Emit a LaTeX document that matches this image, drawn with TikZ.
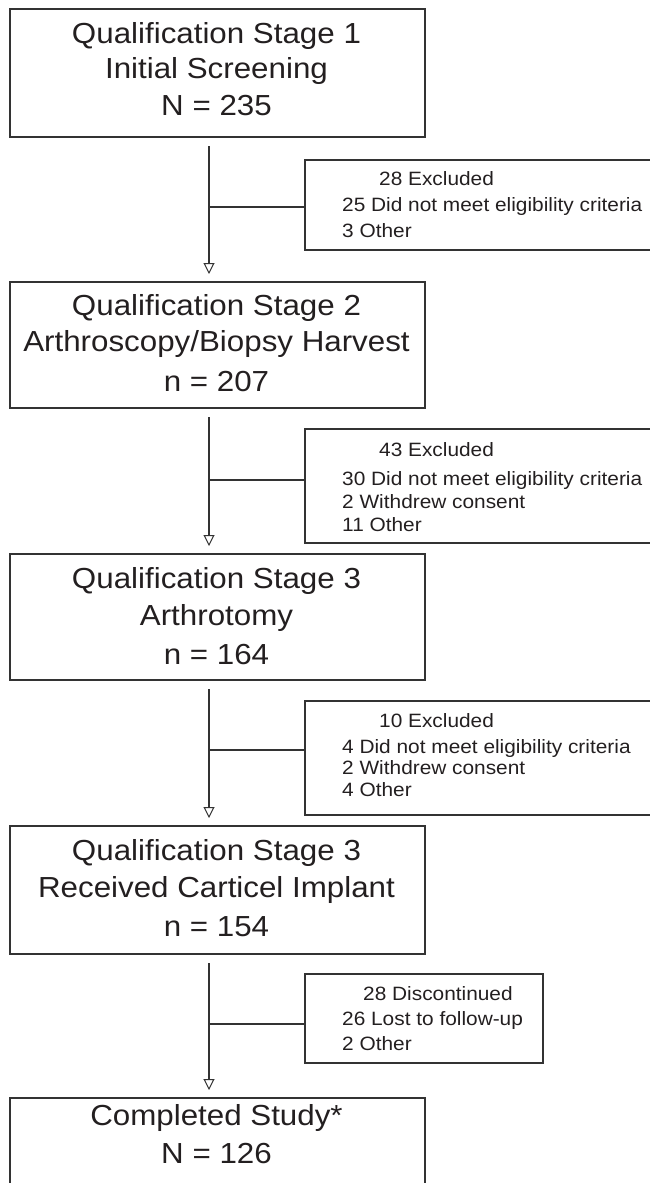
\documentclass[tikz,border=0pt]{standalone}
\usepackage{fontspec}
\setmainfont{Liberation Sans}[FakeStretch=1.08]
\usetikzlibrary{arrows.meta}
\definecolor{ink}{HTML}{231F20}
\definecolor{edge}{HTML}{333333}
\begin{document}
\begin{tikzpicture}[x=1pt,y=-1pt,
  mainbox/.style={draw=edge, line width=2pt, anchor=north west, inner sep=0pt, minimum width=415pt},
  sidebox/.style={draw=edge, line width=2pt, anchor=north west, inner sep=0pt},
  big/.style={font=\fontsize{29}{35}\selectfont, text=ink, anchor=base, inner sep=0pt},
  small/.style={font=\fontsize{19.3}{22}\selectfont, text=ink, anchor=base west, inner sep=0pt},
  flow/.style={draw=edge, line width=2pt, shorten <=8pt, shorten >=7pt,
    -{Triangle[open, length=11pt, width=11pt, line width=1pt]}},
  branch/.style={draw=edge, line width=2pt}]
\useasboundingbox (0,0) rectangle (649,1183);

% main boxes
\node[mainbox, minimum height=128pt] (b1) at (9,8) {};
\node[mainbox, minimum height=126pt] (b2) at (9,281) {};
\node[mainbox, minimum height=126pt] (b3) at (9,553) {};
\node[mainbox, minimum height=128pt] (b4) at (9,825) {};
\node[mainbox, minimum height=110pt] (b5) at (9,1097) {};

% main box texts
\node[big] (t1a) at (216.5,43) {Qualification Stage 1};
\node[big] (t1b) at (216.5,78.5) {Initial Screening};
\node[big] (t1c) at (216.5,115) {N = 235};
\node[big] (t2a) at (216.5,315) {Qualification Stage 2};
\node[big] (t2b) at (216.5,351) {Arthroscopy/Biopsy Harvest};
\node[big] (t2c) at (216.5,391) {n = 207};
\node[big] (t3a) at (216.5,588) {Qualification Stage 3};
\node[big] (t3b) at (216.5,625) {Arthrotomy};
\node[big] (t3c) at (216.5,664) {n = 164};
\node[big] (t4a) at (216.5,860) {Qualification Stage 3};
\node[big] (t4b) at (216.5,897) {Received Carticel Implant};
\node[big] (t4c) at (216.5,936) {n = 154};
\node[big] (t5a) at (216.5,1125) {Completed Study*};
\node[big] (t5b) at (216.5,1163) {N = 126};

% side boxes
\node[sidebox, minimum width=360pt, minimum height=90pt] (x1) at (303.5,159) {};
\node[sidebox, minimum width=360pt, minimum height=114pt] (x2) at (303.5,428) {};
\node[sidebox, minimum width=360pt, minimum height=114pt] (x3) at (303.5,700) {};
\node[sidebox, minimum width=238.5pt, minimum height=89pt] (x4) at (303.5,973) {};

% side texts
\node[small] (s1a) at (379,185) {28 Excluded};
\node[small] (s1b) at (342,211.5) {25 Did not meet eligibility criteria};
\node[small] (s1c) at (342,237) {3 Other};
\node[small] (s2a) at (379,456) {43 Excluded};
\node[small] (s2b) at (342,485) {30 Did not meet eligibility criteria};
\node[small] (s2c) at (342,508) {2 Withdrew consent};
\node[small] (s2d) at (342,531) {11 Other};
\node[small] (s3a) at (379,727) {10 Excluded};
\node[small] (s3b) at (342,753) {4 Did not meet eligibility criteria};
\node[small] (s3c) at (342,774) {2 Withdrew consent};
\node[small] (s3d) at (342,796) {4 Other};
\node[small] (s4a) at (363,1000) {28 Discontinued};
\node[small] (s4b) at (342,1025) {26 Lost to follow-up};
\node[small] (s4c) at (342,1050) {2 Other};

% connector column and junctions
\coordinate (ax) at (209,0);
\coordinate (j1) at (209,207);
\coordinate (j2) at (209,480);
\coordinate (j3) at (209,750);
\coordinate (j4) at (209,1024);

\draw[flow] (b1.south -| ax) -- (b2.north -| ax);
\draw[flow] (b2.south -| ax) -- (b3.north -| ax);
\draw[flow] (b3.south -| ax) -- (b4.north -| ax);
\draw[flow] (b4.south -| ax) -- (b5.north -| ax);

\draw[branch] (j1) -- (j1 -| x1.west);
\draw[branch] (j2) -- (j2 -| x2.west);
\draw[branch] (j3) -- (j3 -| x3.west);
\draw[branch] (j4) -- (j4 -| x4.west);
\end{tikzpicture}
\end{document}
